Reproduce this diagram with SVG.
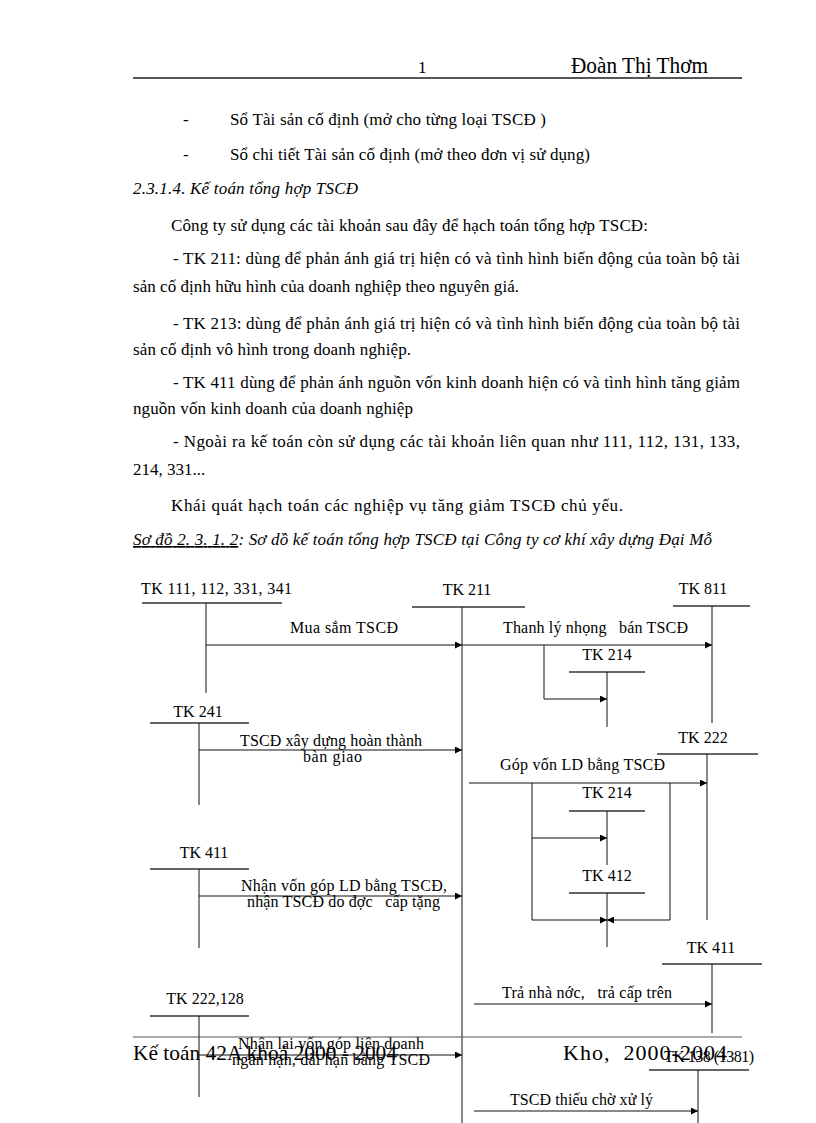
<svg xmlns="http://www.w3.org/2000/svg" width="816" height="1123" viewBox="0 0 816 1123">
<defs>
<style>
text{font-family:"Liberation Serif","Times New Roman",serif;fill:#000}
.b{font-size:17px}
.i{font-style:italic}
.d{font-size:16px}
.m{text-anchor:middle}
.acc{stroke:#333;stroke-width:1.3;fill:none}
.ln{stroke:#111;stroke-width:1;fill:none}
.ar{stroke:#111;stroke-width:1;fill:none;marker-end:url(#ah)}
</style>
<marker id="ah" viewBox="0 0 10 10" refX="10" refY="5" markerWidth="9" markerHeight="7" markerUnits="userSpaceOnUse" orient="auto">
<path d="M0,0 L10,5 L0,10 z" fill="#000"/>
</marker>
</defs>
<rect width="816" height="1123" fill="#fff"/>

<g id="header">
<text x="418" y="73" class="b">1</text>
<text x="571" y="73" style="font-size:23px" textLength="137" lengthAdjust="spacingAndGlyphs">Đoàn Thị Thơm</text>
<line x1="133" y1="78" x2="742" y2="78" stroke="#555" stroke-width="2"/>
</g>

<g id="body">
<text x="183" y="125" class="b">-</text>
<text x="230" y="125" class="b" textLength="316" lengthAdjust="spacing">Sổ Tài sản cố định (mở cho từng loại TSCĐ )</text>
<text x="183" y="160" class="b">-</text>
<text x="230" y="160" class="b" textLength="360" lengthAdjust="spacing">Sổ chi tiết Tài sản cố định (mở theo đơn vị sử dụng)</text>
<text x="133" y="194" class="b i" textLength="225" lengthAdjust="spacing">2.3.1.4. Kế toán tổng hợp TSCĐ</text>
<text x="171" y="231" class="b" textLength="477" lengthAdjust="spacing">Công ty sử dụng các tài khoản sau đây để hạch toán tổng hợp TSCĐ:</text>
<text x="173" y="264" class="b" textLength="567" lengthAdjust="spacing">- TK 211: dùng để phản ánh giá trị hiện có và tình hình biến động của toàn bộ tài</text>
<text x="133" y="292" class="b" textLength="386" lengthAdjust="spacing">sản cố định hữu hình của doanh nghiệp theo nguyên giá.</text>
<text x="173" y="329" class="b" textLength="567" lengthAdjust="spacing">- TK 213: dùng để phản ánh giá trị hiện có và tình hình biến động của toàn bộ tài</text>
<text x="133" y="355" class="b" textLength="278" lengthAdjust="spacing">sản cố định vô hình trong doanh nghiệp.</text>
<text x="173" y="388" class="b" textLength="567" lengthAdjust="spacing">- TK 411 dùng để phản ánh nguồn vốn kinh doanh hiện có và tình hình tăng giảm</text>
<text x="133" y="414" class="b" textLength="280" lengthAdjust="spacing">nguồn vốn kinh doanh của doanh nghiệp</text>
<text x="173" y="447" class="b" textLength="567" lengthAdjust="spacing">- Ngoài ra kế toán còn sử dụng các tài khoản liên quan như 111, 112, 131, 133,</text>
<text x="133" y="475" class="b">214, 331...</text>
<text x="171" y="511" class="b" textLength="452" lengthAdjust="spacing">Khái quát hạch toán các nghiệp vụ tăng giảm TSCĐ chủ yếu.</text>
<text x="133" y="545" class="b i" textLength="579" lengthAdjust="spacing"><tspan text-decoration="underline">Sơ đồ 2. 3. 1. 2</tspan>: Sơ dồ kế toán tổng hợp TSCĐ tại Công ty cơ khí xây dựng Đại Mỗ</text>
</g>

<g id="tk111">
<text x="141" y="594" class="d" textLength="151" lengthAdjust="spacing">TK 111, 112, 331, 341</text>
<line class="acc" x1="142" y1="603" x2="282" y2="603"/>
<line class="ln" x1="206" y1="603" x2="206" y2="693"/>
</g>
<g id="tk211">
<text x="467" y="595" class="d m">TK 211</text>
<line class="acc" x1="412" y1="607" x2="525" y2="607"/>
<line class="ln" x1="462" y1="607" x2="462" y2="1123"/>
</g>
<g id="tk811">
<text x="703" y="594" class="d m">TK 811</text>
<line class="acc" x1="673" y1="606" x2="750" y2="606"/>
<line class="ln" x1="712" y1="606" x2="712" y2="723"/>
</g>
<g id="tk214a">
<text x="607" y="660" class="d m">TK 214</text>
<line class="acc" x1="569" y1="672" x2="645" y2="672"/>
<line class="ln" x1="607" y1="672" x2="607" y2="727"/>
</g>
<g id="tk241">
<text x="198" y="717" class="d m">TK 241</text>
<line class="acc" x1="150" y1="723" x2="249" y2="723"/>
<line class="ln" x1="199" y1="723" x2="199" y2="805"/>
</g>
<g id="tk222">
<text x="703" y="743" class="d m">TK 222</text>
<line class="acc" x1="657" y1="754" x2="758" y2="754"/>
<line class="ln" x1="707" y1="754" x2="707" y2="920"/>
</g>
<g id="tk214b">
<text x="607" y="798" class="d m">TK 214</text>
<line class="acc" x1="569" y1="811" x2="645" y2="811"/>
<line class="ln" x1="607" y1="811" x2="607" y2="865"/>
</g>
<g id="tk411a">
<text x="204" y="858" class="d m">TK 411</text>
<line class="acc" x1="150" y1="869" x2="249" y2="869"/>
<line class="ln" x1="199" y1="869" x2="199" y2="948"/>
</g>
<g id="tk412">
<text x="607" y="881" class="d m">TK 412</text>
<line class="acc" x1="569" y1="893" x2="645" y2="893"/>
<line class="ln" x1="607" y1="893" x2="607" y2="947"/>
</g>
<g id="tk411b">
<text x="711" y="953" class="d m">TK 411</text>
<line class="acc" x1="662" y1="964" x2="762" y2="964"/>
<line class="ln" x1="712" y1="964" x2="712" y2="1033"/>
</g>
<g id="tk222128">
<text x="205" y="1004" class="d m">TK 222,128</text>
<line class="acc" x1="150" y1="1016" x2="249" y2="1016"/>
<line class="ln" x1="199" y1="1016" x2="199" y2="1097"/>
</g>
<g id="tk138">
<text x="664" y="1062" class="d" textLength="90" lengthAdjust="spacing">TK 138 (1381)</text>
<line class="acc" x1="649" y1="1070" x2="749" y2="1070"/>
<line class="ln" x1="698" y1="1070" x2="698" y2="1123"/>
</g>

<g id="connectors">
<line class="ar" x1="206" y1="645" x2="462" y2="645"/>
<text x="290" y="633" class="d" textLength="108" lengthAdjust="spacing">Mua sắm TSCĐ</text>
<line class="ar" x1="462" y1="645" x2="712" y2="645"/>
<text x="503" y="633" class="d" xml:space="preserve" textLength="185" lengthAdjust="spacing">Thanh lý nhọng   bán TSCĐ</text>
<polyline class="ar" points="544,645 544,699 607,699"/>
<line class="ar" x1="199" y1="750" x2="462" y2="750"/>
<text x="240" y="746" class="d" textLength="182" lengthAdjust="spacing">TSCĐ xây dựng hoàn thành</text>
<text x="303" y="762" class="d" textLength="59" lengthAdjust="spacing">bàn giao</text>
<line class="ar" x1="469" y1="783" x2="707" y2="783"/>
<text x="500" y="770" class="d" textLength="165" lengthAdjust="spacing">Góp vốn LD bằng TSCĐ</text>
<polyline class="ln" points="532,783 532,920"/>
<polyline class="ln" points="670,783 670,920"/>
<line class="ar" x1="532" y1="838" x2="607" y2="838"/>
<line class="ar" x1="532" y1="920" x2="607" y2="920"/>
<line class="ar" x1="670" y1="920" x2="607" y2="920"/>
<line class="ar" x1="199" y1="896" x2="462" y2="896"/>
<text x="241" y="891" class="d" textLength="206" lengthAdjust="spacing">Nhận vốn góp LD bằng TSCĐ,</text>
<text x="247" y="907" class="d" xml:space="preserve" textLength="193" lengthAdjust="spacing">nhận TSCĐ do đợc   cấp tặng</text>
<line class="ar" x1="474" y1="1004" x2="712" y2="1004"/>
<text x="502" y="998" class="d" xml:space="preserve" textLength="170" lengthAdjust="spacing">Trả nhà nớc,   trả cấp trên</text>
<line class="ar" x1="199" y1="1055" x2="462" y2="1055"/>
<text x="238" y="1049" class="d" textLength="186" lengthAdjust="spacing">Nhận lại vốn góp liên doanh</text>
<text x="232" y="1065" class="d" textLength="198" lengthAdjust="spacing">ngắn hạn, dài hạn bằng TSCĐ</text>
<line class="ar" x1="474" y1="1111" x2="698" y2="1111"/>
<text x="510" y="1105" class="d" textLength="143" lengthAdjust="spacing">TSCĐ thiếu chờ xử lý</text>
</g>

<g id="footer">
<line x1="133" y1="1037" x2="742" y2="1037" stroke="#555" stroke-width="1.2"/>
<text x="133" y="1060" style="font-size:22px" textLength="264" lengthAdjust="spacingAndGlyphs">Kế toán 42A khoá 2000 - 2004</text>
<text x="563" y="1060" style="font-size:22px" xml:space="preserve" textLength="164" lengthAdjust="spacing">Kho,  2000-2004</text>
</g>
</svg>
